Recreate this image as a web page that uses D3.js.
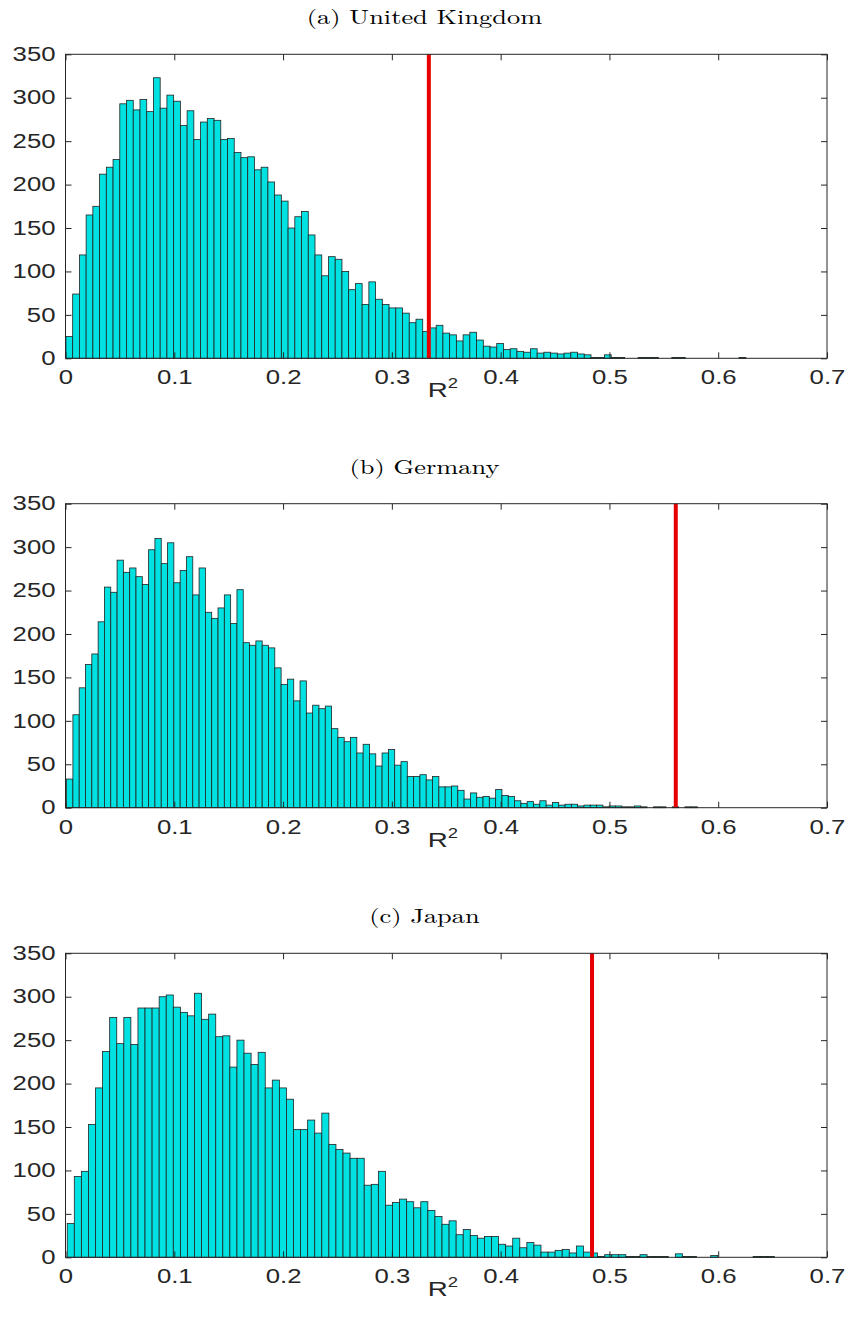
<!DOCTYPE html>
<html>
<head>
<meta charset="utf-8">
<script src="https://cdn.jsdelivr.net/npm/d3@7"></script>
<style>
body { margin: 0; background: #fff; }
</style>
</head>
<body>
<svg id="fig" width="849" height="1326"></svg>
<script>
// panel titles
var titles = ["(a) United Kingdom", "(b) Germany", "(c) Japan"];

// histogram counts, 100 bins per panel
var ukCounts = [25,74,119,165,175,212,220,229,293,297,286,298,284,323,288,303,296,268,285,252,
    272,276,274,252,253,237,231,232,217,220,203,188,181,150,163,169,142,
    119,95,117,114,100,79,86,62,88,68,62,58,58,52,41,45,31,35,38,29,27,20,27,30,21,14,13,17,10,11,8,7,11,6,7,
    6,5,6,7,5,4,1,1,4,1,1,0,0,1,1,1,0,0,1,1,0,0,0,0,0,0,0,0,1];
var deCounts = [33,107,138,165,177,214,254,248,285,271,276,266,257,297,310,281,305,259,273,289,
    245,276,225,218,230,245,212,251,190,187,192,187,184,161,142,148,123,146,109,118,
    114,117,91,81,76,81,63,73,62,48,63,67,49,53,36,36,38,32,36,24,24,25,20,10,17,12,13,11,21,14,13,8,5,7,4,8,3,6,
    3,4,4,2,3,3,3,1,2,2,1,1,2,1,0,1,1,0,1,0,1,1];
var jpCounts = [39,93,99,153,195,237,276,246,276,245,287,287,287,300,302,288,282,278,304,274,
    280,254,255,219,250,235,222,236,195,204,195,182,147,147,158,
    143,166,130,124,120,114,114,83,84,99,60,63,67,64,57,64,54,47,38,42,26,32,25,22,24,24,15,13,22,11,17,14,6,6,
    8,9,5,13,6,5,1,3,3,3,1,1,3,1,1,1,0,4,1,1,0,0,2,0,0,0,0,0,1,1,1];

// first and last bin edge of each histogram
var ukRange = [0.0004, 0.6254];
var deRange = [0.0010, 0.5810];
var jpRange = [0.0016, 0.6516];

// observed R^2 (red line)
var observed = [0.334, 0.561, 0.484];

var xTicks = [0, 0.1, 0.2, 0.3, 0.4, 0.5, 0.6, 0.7];
var yTicks = [0, 50, 100, 150, 200, 250, 300, 350];

var panels = [
    {title: titles[0], counts: ukCounts, range: ukRange, line: observed[0]},
    {title: titles[1], counts: deCounts, range: deRange, line: observed[1]},
    {title: titles[2], counts: jpCounts, range: jpRange, line: observed[2]}
];

var svg = d3.select("#fig");
var left = 65.5, right = 827, plotH = 304;
var tops = [54.3, 503.7, 953.3];
var stretch = 1.32;   // text in the source is horizontally stretched
var axisColor = "#262626";

var x = d3.scaleLinear().domain([0, 0.7]).range([left, right]);

panels.forEach(function(p, k){
    var top = tops[k], bottom = top + plotH;
    var y = d3.scaleLinear().domain([0, 350]).range([bottom, top]);
    var n = p.counts.length;
    var w = (p.range[1] - p.range[0]) / n;
    var bins = p.counts.map(function(c, i){
        return {x0: p.range[0] + i * w, x1: p.range[0] + (i + 1) * w, count: c};
    });

    var g = svg.append("g");

    // title
    g.append("text")
        .attr("transform", "translate(424.5," + (top - 30) + ") scale(" + stretch + ",1)")
        .attr("text-anchor", "middle")
        .style("font-family", "'Latin Modern Roman', 'CMU Serif', 'DejaVu Serif', serif")
        .style("font-size", "20px")
        .attr("fill", "#000")
        .text(p.title);

    // bars
    g.append("g")
        .selectAll("rect")
        .data(bins)
        .enter().append("rect")
        .attr("x", function(d){ return x(d.x0); })
        .attr("y", function(d){ return y(d.count); })
        .attr("width", function(d){ return x(d.x1) - x(d.x0); })
        .attr("height", function(d){ return y(0) - y(d.count); })
        .attr("fill", "#00e1e1")
        .attr("stroke", "#222")
        .attr("stroke-width", 0.8);

    // observed value
    g.append("line")
        .attr("x1", x(p.line)).attr("x2", x(p.line))
        .attr("y1", y(0)).attr("y2", y(350))
        .attr("stroke", "#e60000")
        .attr("stroke-width", 4);

    // axes with inward ticks
    var xb = g.append("g").attr("transform", "translate(0," + bottom + ")")
        .call(d3.axisBottom(x).tickValues(xTicks).tickSize(-6).tickPadding(12)
            .tickFormat(function(d){ return d === 0 ? "0" : d3.format(".1f")(d); }));
    var xt = g.append("g").attr("transform", "translate(0," + top + ")")
        .call(d3.axisTop(x).tickValues(xTicks).tickSize(-6).tickFormat(""));
    var yl = g.append("g").attr("transform", "translate(" + left + ",0)")
        .call(d3.axisLeft(y).tickValues(yTicks).tickSize(-6).tickPadding(10));
    var yr = g.append("g").attr("transform", "translate(" + right + ",0)")
        .call(d3.axisRight(y).tickValues(yTicks).tickSize(-6).tickFormat(""));

    [xb, xt, yl, yr].forEach(function(a){
        a.select(".domain").remove();
        a.selectAll("line").attr("stroke", axisColor);
    });
    xb.selectAll("text")
        .attr("transform", "scale(" + stretch + ",1)")
        .attr("dy", "0.71em")
        .style("font-family", "'Liberation Sans', Arial, sans-serif")
        .style("font-size", "19.5px")
        .attr("fill", axisColor);
    yl.selectAll("text")
        .attr("x", -10 / stretch)
        .attr("transform", "scale(" + stretch + ",1)")
        .style("font-family", "'Liberation Sans', Arial, sans-serif")
        .style("font-size", "19.5px")
        .attr("fill", axisColor);

    // box
    g.append("rect")
        .attr("x", left).attr("y", top)
        .attr("width", right - left).attr("height", plotH)
        .attr("fill", "none")
        .attr("stroke", axisColor)
        .attr("stroke-width", 1);

    // x label R^2
    var lab = g.append("text")
        .attr("transform", "translate(" + 443 + "," + (bottom + 39) + ") scale(" + stretch + ",1)")
        .attr("text-anchor", "middle")
        .style("font-family", "'Liberation Sans', Arial, sans-serif")
        .style("font-size", "21px")
        .attr("fill", axisColor);
    lab.append("tspan").text("R");
    lab.append("tspan").attr("dy", -9).style("font-size", "14px").text("2");
});
</script>
</body>
</html>
